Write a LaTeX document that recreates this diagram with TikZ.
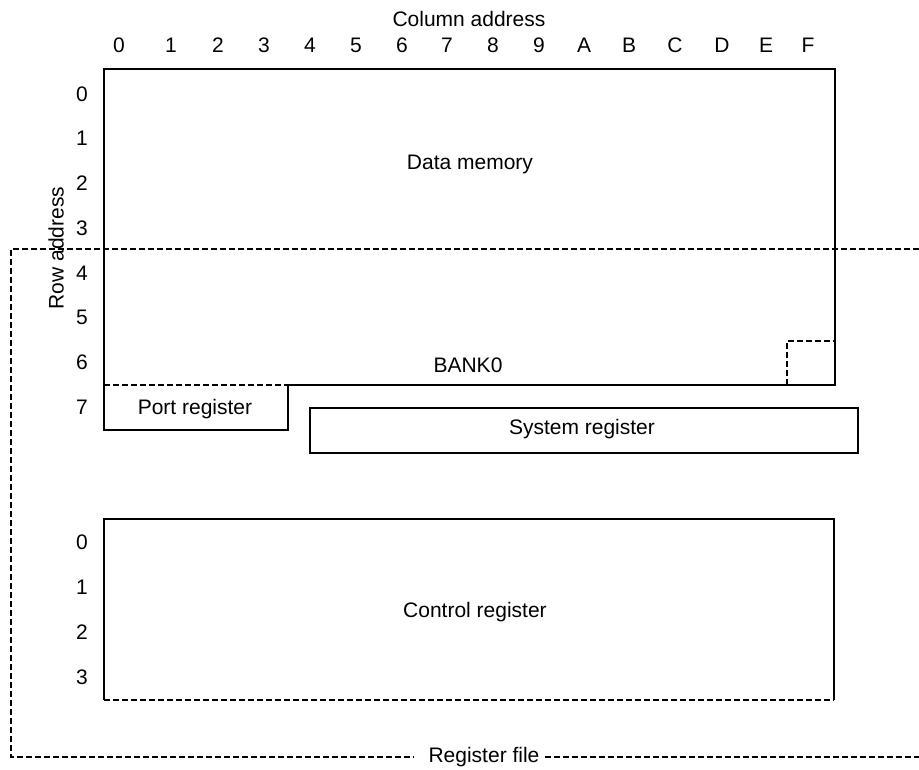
\documentclass[tikz,border=0pt]{standalone}
\usepackage{fontspec}
\setmainfont{Liberation Sans}
\usetikzlibrary{positioning}

\begin{document}
\begin{tikzpicture}[x=1pt,y=-1pt,
                    solid wall/.style={line width=2.6pt,line join=miter},
                    dash wall/.style={line width=1.4pt,dash pattern=on 6pt off 3pt},
                    addr/.style={font=\fontsize{21}{25}\selectfont,inner sep=0pt},
                    area label/.style={font=\fontsize{21}{25}\selectfont,inner sep=0pt}]

  \useasboundingbox (0,0) rectangle (919,770);

  % corners of the memory map
  \coordinate (dm nw) at (104,69);
  \coordinate (dm ne) at (835,69);
  \coordinate (dm se) at (835,385);
  \coordinate (bank sw) at (104,385);
  \coordinate (port ne) at (288,385);
  \coordinate (port se) at (288,430);
  \coordinate (port sw) at (104,430);
  \coordinate (sq nw) at (787,341);
  \coordinate (sq ne) at (835,341);
  \coordinate (sq sw) at (787,385);

  % data memory and port register
  \draw[solid wall] (port ne) -- (dm se) -- (dm ne) -- (dm nw) -- (port sw)
                    -- (port se) -- (port ne);
  \draw[dash wall] (bank sw) -- (port ne);
  \draw[dash wall] (sq sw) -- (sq nw) -- (sq ne);

  % system register
  \draw[solid wall] (310,408) rectangle (858,453);

  % control register
  \coordinate (cr nw) at (104,519);
  \coordinate (cr ne) at (834,519);
  \coordinate (cr sw) at (104,700);
  \coordinate (cr se) at (834,700);
  \draw[solid wall] (cr sw) -- (cr nw) -- (cr ne) -- (cr se);
  \draw[dash wall] (cr sw) -- (cr se);

  % register file boundary
  \node[area label] (regfile) at (484,757) {Register file};
  \coordinate (rf nw) at (11,249);
  \coordinate (rf ne) at (919,249);
  \coordinate (rf sw) at (11,757);
  \coordinate (rf se) at (919,757);
  \draw[dash wall] (rf ne) -- (rf nw) -- (rf sw) -- ([xshift=-14pt]regfile.west |- rf sw);
  \draw[dash wall] ([xshift=5pt]regfile.east |- rf se) -- (rf se);

  % addresses
  \node[addr] (coladdr) at (469,19) {Column address};
  \node[addr,rotate=90] (rowaddr) at (56,248) {Row address};
  \foreach \c/\x in {0/119,1/171,2/218,3/264,4/310,5/356,6/402,7/447,
                     8/493,9/539,A/584,B/629,C/675,D/722,E/766,F/808}
    \node[addr] (col\c) at (\x,45) {\c};
  \foreach \r in {0,...,7}
    \node[addr] (row\r) at (82,{94+44.7*\r}) {\r};
  \foreach \r in {0,...,3}
    \node[addr] (crow\r) at (82,{542+45*\r}) {\r};

  % area names
  \node[area label] (datamem) at (470,164) {Data memory};
  \node[area label] (bank0) at (468,365) {BANK0};
  \node[area label] (portreg) at (195,409) {Port register};
  \node[area label] (sysreg) at (582,429) {System register};
  \node[area label] (ctrlreg) at (475,612) {Control register};
\end{tikzpicture}
\end{document}
